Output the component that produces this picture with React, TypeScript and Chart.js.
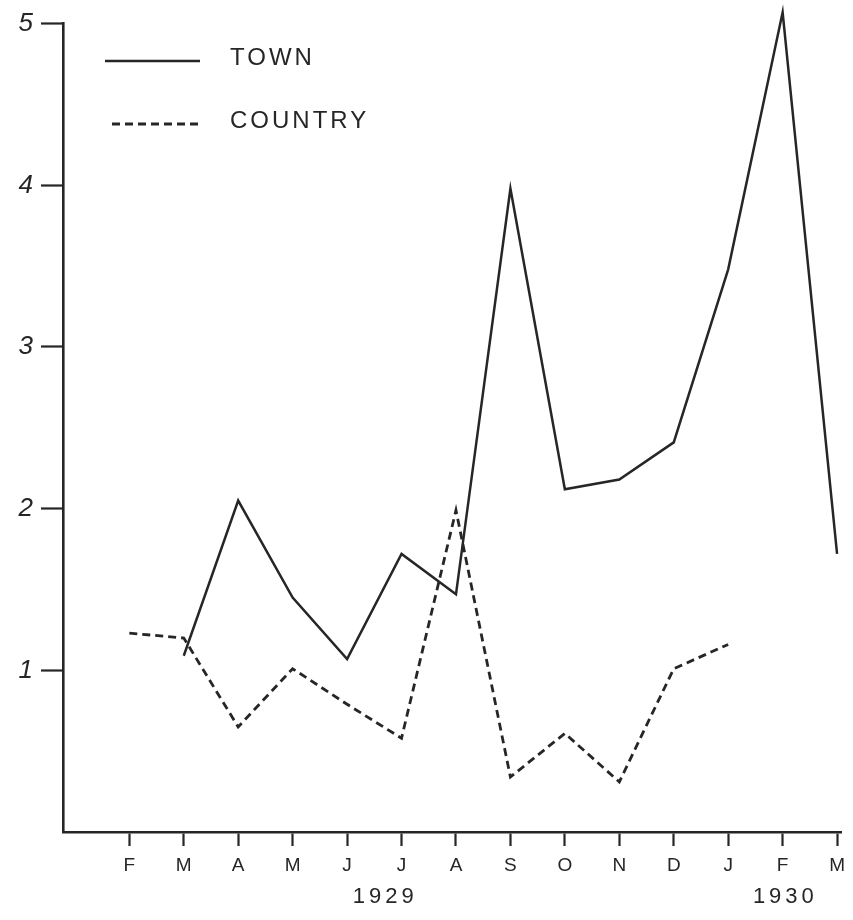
import React, { useEffect, useRef } from "react";
import { Chart, registerables } from "chart.js";

Chart.register(...registerables);

const months = ["F", "M", "A", "M", "J", "J", "A", "S", "O", "N", "D", "J", "F", "M"];
const townValues = [null, 1.09, 2.05, 1.45, 1.07, 1.72, 1.47, 3.98, 2.12, 2.18, 2.41, 3.48, 5.07, 1.72];
const countryValues = [1.23, 1.2, 0.65, 1.01, 0.79, 0.58, 1.99, 0.34, 0.61, 0.31, 1.01, 1.16, null, null];
const yTickValues = [1, 2, 3, 4, 5];
const yearLabels = ["1929", "1930"];
const yearAnchors = [4.7, 12.05];

const INK = "#262626";

const overlayPlugin = {
  id: "overlay",
  afterDraw(chart: any) {
    const ctx = chart.ctx;
    const xs = chart.scales.x;
    ctx.save();
    ctx.fillStyle = INK;
    ctx.strokeStyle = INK;
    // year labels
    ctx.font = "22px 'Liberation Sans'";
    (ctx as any).letterSpacing = "4px";
    ctx.textAlign = "center";
    ctx.textBaseline = "middle";
    yearLabels.forEach((t, i) => {
      ctx.fillText(t, xs.getPixelForValue(yearAnchors[i]), 897);
    });
    // legend
    ctx.font = "24px 'Liberation Sans'";
    (ctx as any).letterSpacing = "3px";
    ctx.textAlign = "left";
    chart.data.datasets.forEach((ds: any, i: number) => {
      const y = 61 + i * 63;
      ctx.beginPath();
      ctx.lineWidth = ds.borderWidth;
      ctx.setLineDash(ds.borderDash || []);
      ctx.moveTo(i === 0 ? 105 : 112, y);
      ctx.lineTo(200, y);
      ctx.stroke();
      ctx.setLineDash([]);
      ctx.fillText(ds.label, 230, y - 3);
    });
    ctx.restore();
  },
};

export default function App() {
  const ref = useRef<HTMLCanvasElement>(null);
  useEffect(() => {
    if (!ref.current) return;
    const chart = new Chart(ref.current, {
      type: "line",
      data: {
        datasets: [
          {
            label: "TOWN",
            data: townValues.map((v, i) => ({ x: i, y: v })) as any,
            borderColor: INK,
            borderWidth: 2.5,
            pointRadius: 0,
            tension: 0,
            clip: false as any,
            spanGaps: false,
          },
          {
            label: "COUNTRY",
            data: countryValues.map((v, i) => ({ x: i, y: v })) as any,
            borderColor: INK,
            borderWidth: 2.8,
            borderDash: [8, 5],
            pointRadius: 0,
            tension: 0,
            clip: false as any,
            spanGaps: false,
          },
        ],
      },
      options: {
        responsive: false,
        animation: false,
        layout: { padding: { top: 17, right: 2, left: 0, bottom: 0 } },
        plugins: { legend: { display: false }, tooltip: { enabled: false } },
        scales: {
          x: {
            type: "linear",
            min: -1.218,
            max: 13.09,
            afterFit: (s: any) => {
              s.height = 88;
            },
            afterBuildTicks: (s: any) => {
              s.ticks = months.map((_, i) => ({ value: i }));
            },
            grid: {
              drawOnChartArea: false,
              drawTicks: true,
              tickLength: 14,
              tickWidth: 2.2,
              tickColor: INK,
            },
            border: { display: true, color: INK, width: 2.6 },
            ticks: {
              autoSkip: false,
              maxRotation: 0,
              padding: 8,
              color: INK,
              font: { family: "'Liberation Sans'", size: 19 },
              callback: (v: any) => months[v] ?? "",
            },
          },
          y: {
            type: "linear",
            min: 0,
            max: 5,
            afterFit: (s: any) => {
              s.width = 63;
            },
            afterBuildTicks: (s: any) => {
              s.ticks = yTickValues.map((v) => ({ value: v }));
            },
            grid: {
              drawOnChartArea: false,
              drawTicks: true,
              tickLength: 22,
              tickWidth: 2.2,
              tickColor: INK,
            },
            border: { display: true, color: INK, width: 2.6 },
            ticks: {
              padding: 8,
              color: INK,
              font: { family: "'Liberation Sans'", size: 26, style: "italic" },
              callback: (v: any) => String(v),
            },
          },
        },
      },
      plugins: [overlayPlugin],
    });
    return () => chart.destroy();
  }, []);
  return (
    <div style={{ position: "absolute", left: 0, top: 0, width: 853, height: 920, background: "#fff" }}>
      <canvas ref={ref} width={853} height={920} style={{ display: "block" }} />
    </div>
  );
}
